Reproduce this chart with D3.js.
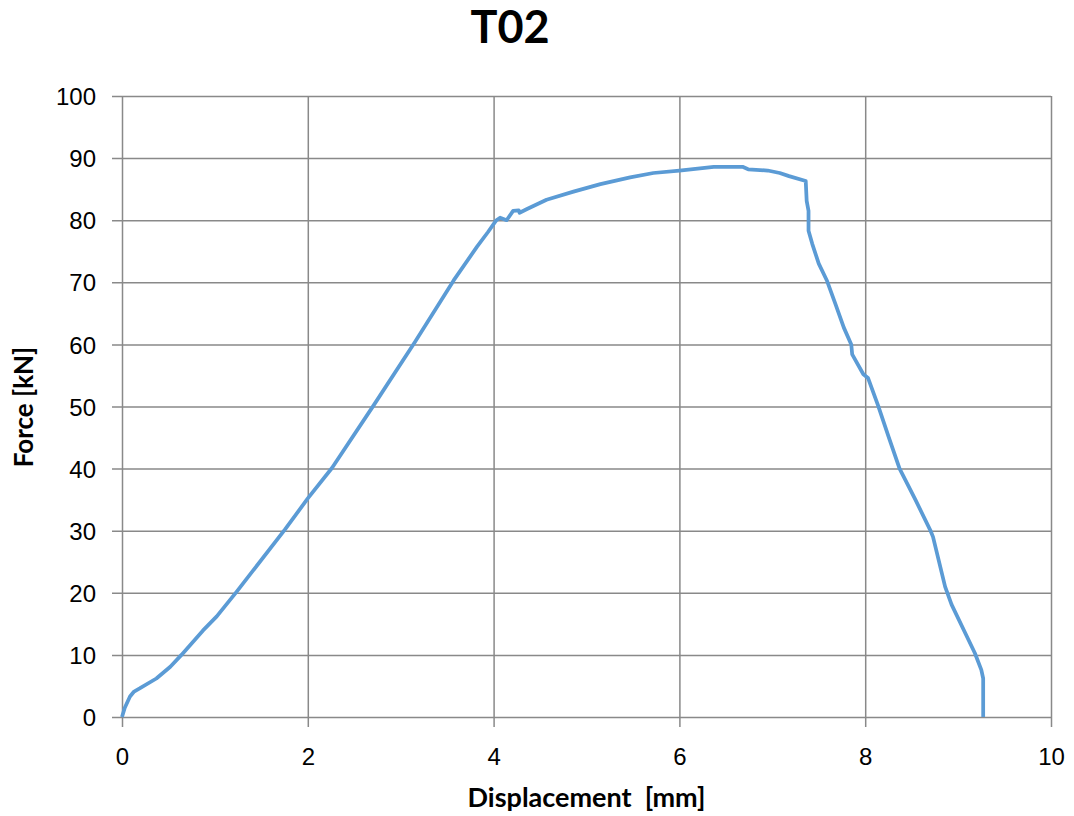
<!DOCTYPE html>
<html>
<head>
<meta charset="utf-8">
<script src="https://cdn.jsdelivr.net/npm/d3@7"></script>
<style>
  html, body { margin: 0; padding: 0; background: #fff; }
  svg { display: block; font-family: Lato, "Open Sans", sans-serif; }
</style>
</head>
<body>
<div id="chart"></div>
<script>
// readings
const displacement = [0, 0.03, 0.086, 0.13, 0.19, 0.37, 0.52, 0.64, 0.87, 1.02, 1.235, 1.755, 2.0, 2.26, 2.705,
    3.15, 3.57, 3.82, 3.94, 4.03, 4.07, 4.14, 4.21, 4.27, 4.28, 4.36, 4.57, 4.86, 5.15, 5.47,
    5.72, 6.0, 6.37, 6.68, 6.74, 6.95, 7.08, 7.18, 7.36, 7.37, 7.39, 7.39, 7.43, 7.50, 7.59, 7.68,
    7.77, 7.85, 7.86, 7.98, 8.03, 8.14, 8.255, 8.37, 8.54, 8.70, 8.73, 8.86, 8.93, 9.18, 9.25, 9.27, 9.27];
const force = [0, 1.5, 3.3, 4.1, 4.6, 6.2, 8.1, 10.0, 13.9, 16.2, 20.2, 30.2, 35.2, 40.1, 50.1,
    60.3, 70.3, 75.7, 78.1, 80.0, 80.4, 80.0, 81.5, 81.6, 81.2, 81.8, 83.3, 84.6, 85.8, 86.9,
    87.6, 88.0, 88.6, 88.6, 88.2, 88.0, 87.6, 87.1, 86.3, 83.1, 81.5, 78.3, 76.2, 73.0, 70.2, 66.5,
    62.7, 60.0, 58.4, 55.2, 54.6, 50.1, 45.0, 40.0, 35.0, 30.1, 29.0, 21.0, 18.1, 10.3, 7.6, 6.2, 0];
const xTicks = [0, 2, 4, 6, 8, 10];
const yTicks = [0, 10, 20, 30, 40, 50, 60, 70, 80, 90, 100];

const width = 1074;
const height = 816;
const margin = { top: 96, right: 23, bottom: 99, left: 122 };

const x = d3.scaleLinear().domain([0, 10]).range([margin.left, width - margin.right]);
const y = d3.scaleLinear().domain([0, 100]).range([height - margin.bottom, margin.top]);

const svg = d3.select('#chart')
    .append('svg')
    .attr('width', width)
    .attr('height', height);

const gridColor = '#898989';

// x axis with gridlines (ticks run from 10px below the axis up to the top)
const xAxis = svg.append('g')
    .attr('transform', `translate(0, ${height - margin.bottom})`)
    .call(d3.axisBottom(x).tickValues(xTicks).tickFormat(d3.format('d'))
        .tickSizeInner(-(height - margin.top - margin.bottom)).tickSizeOuter(0).tickPadding(0));
xAxis.select('.domain').remove();
xAxis.selectAll('.tick line')
    .attr('y1', 10)
    .attr('stroke', gridColor)
    .attr('stroke-width', 1.5);
xAxis.selectAll('.tick text')
    .attr('y', 48)
    .attr('dy', 0)
    .style('font-size', '24px')
    .style('fill', '#000');

const yAxis = svg.append('g')
    .attr('transform', `translate(${margin.left}, 0)`)
    .call(d3.axisLeft(y).tickValues(yTicks).tickFormat(d3.format('d'))
        .tickSizeInner(-(width - margin.left - margin.right)).tickSizeOuter(0).tickPadding(0));
yAxis.select('.domain').remove();
yAxis.selectAll('.tick line')
    .attr('x1', -10)
    .attr('stroke', gridColor)
    .attr('stroke-width', 1.5);
yAxis.selectAll('.tick text')
    .attr('x', -26)
    .attr('dy', '0.36em')
    .style('font-size', '24px')
    .style('fill', '#000');

// the curve
const points = displacement.map((d, i) => [d, force[i]]);
const line = d3.line().x(d => x(d[0])).y(d => y(d[1]));

svg.append('path')
    .datum(points)
    .attr('d', line)
    .attr('fill', 'none')
    .attr('stroke', '#5B9BD5')
    .attr('stroke-width', 3.75)
    .attr('stroke-linejoin', 'round');

// titles
svg.append('text')
    .attr('x', 510)
    .attr('y', 43)
    .attr('text-anchor', 'middle')
    .style('font-size', '45px')
    .style('font-weight', 'bold')
    .text('T02');

svg.append('text')
    .attr('x', (margin.left + width - margin.right) / 2)
    .attr('y', 807)
    .attr('text-anchor', 'middle')
    .style('font-size', '27px')
    .style('font-weight', 'bold')
    .style('white-space', 'pre')
    .text('Displacement  [mm]');

svg.append('text')
    .attr('transform', 'translate(33, 407) rotate(-90)')
    .attr('text-anchor', 'middle')
    .style('font-size', '26px')
    .style('font-weight', 'bold')
    .style('white-space', 'pre')
    .text('Force [kN]');
</script>
</body>
</html>
